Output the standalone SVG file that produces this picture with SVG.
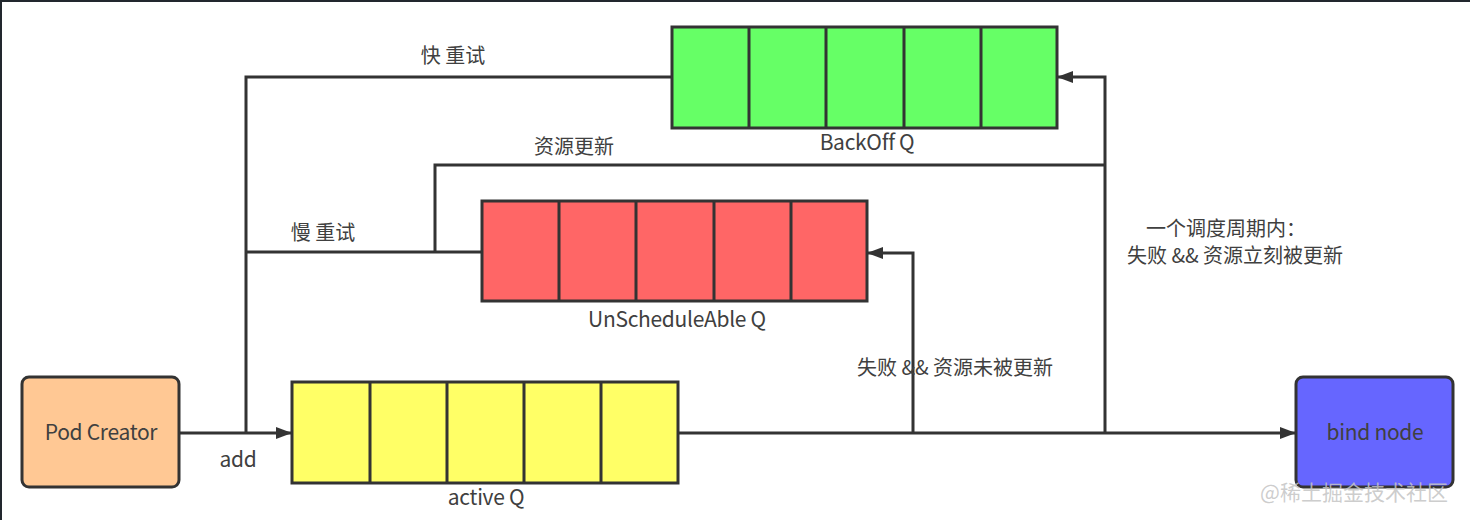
<svg xmlns="http://www.w3.org/2000/svg" width="1470" height="520" viewBox="0 0 1470 520">
<defs>
<marker id="arr" viewBox="0 0 16 12" refX="16" refY="6" markerWidth="16" markerHeight="12" markerUnits="userSpaceOnUse" orient="auto">
<path d="M0,0 L16,6 L0,12 Z" fill="#333"/>
</marker>
</defs>
<style>
.t{font-family:"Noto Sans CJK SC","Noto Sans",sans-serif;font-size:20px;fill:#404040;text-anchor:middle}
.e{font-size:21px;letter-spacing:-0.3px}
.box{stroke:#333;stroke-width:3}
.cell{stroke:#333;stroke-width:3}
.c{fill:none;stroke:#333;stroke-width:3}
</style>
<rect x="0" y="0" width="1470" height="520" fill="#22272e"/>
<rect x="2" y="2" width="1468" height="518" fill="#ffffff"/>

<g id="connectors">
<path class="c" d="M179,433 L292,433" marker-end="url(#arr)"/>
<path class="c" d="M246,433 L246,77 L672,77"/>
<path class="c" d="M246,252 L482,252"/>
<path class="c" d="M435,252 L435,165 L1105,165"/>
<path class="c" d="M678,433 L1296,433" marker-end="url(#arr)"/>
<path class="c" d="M913,433 L913,253 L867,253" marker-end="url(#arr)"/>
<path class="c" d="M1105,433 L1105,77 L1057,77" marker-end="url(#arr)"/>
<text class="t e" x="238" y="467">add</text>
<text class="t" x="453" y="63">快 重试</text>
<text class="t" x="323" y="240">慢 重试</text>
<text class="t" x="574" y="154">资源更新</text>
<text class="t" x="955" y="375">失败 &amp;&amp; 资源未被更新</text>
<text class="t" x="1226" y="236">一个调度周期内：</text>
<text class="t" x="1235" y="263">失败 &amp;&amp; 资源立刻被更新</text>
</g>

<g id="pod-creator">
<rect class="box" x="22" y="377" width="157" height="110" rx="7" fill="#ffc894"/>
<text class="t e" x="101" y="440">Pod Creator</text>
</g>

<g id="active-q">
<rect class="box" x="292" y="382" width="386" height="101" fill="#ffff66"/>
<path class="cell" d="M370,382V483M447,382V483M524,382V483M601,382V483"/>
<text class="t e" x="486" y="505">active Q</text>
</g>

<g id="backoff-q">
<rect class="box" x="672" y="27" width="385" height="101" fill="#66ff66"/>
<path class="cell" d="M749,27V128M826,27V128M904,27V128M981,27V128"/>
<text class="t e" x="867" y="150">BackOff Q</text>
</g>

<g id="unschedulable-q">
<rect class="box" x="482" y="201" width="385" height="100" fill="#ff6666"/>
<path class="cell" d="M559,201V301M636,201V301M714,201V301M791,201V301"/>
<text class="t e" x="677" y="327">UnScheduleAble Q</text>
</g>

<g id="bind-node">
<rect class="box" x="1296" y="377" width="157" height="110" rx="7" fill="#6666ff"/>
<text class="t e" x="1375" y="440">bind node</text>
</g>

<text x="1354" y="500" style="font-family:'Noto Sans CJK SC','Noto Sans',sans-serif;font-size:21px;fill:#c4c4c4;fill-opacity:0.85;text-anchor:middle">@稀土掘金技术社区</text>
</svg>
